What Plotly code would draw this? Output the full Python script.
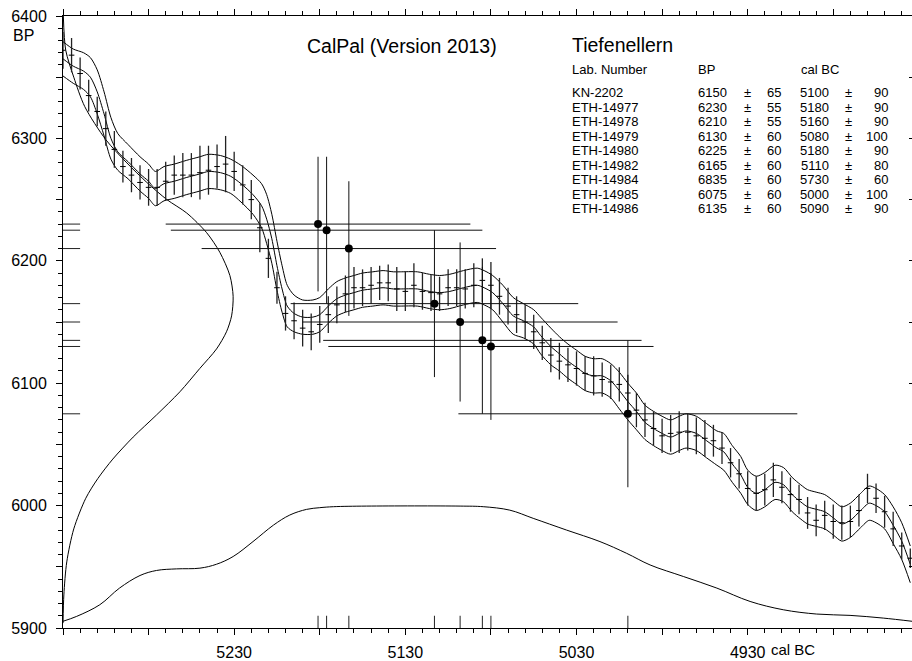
import plotly.graph_objects as go

FONT = "Liberation Sans, Arial, sans-serif"

# ---------------- samples (table) ----------------
lab_numbers = ["KN-2202", "ETH-14977", "ETH-14978", "ETH-14979", "ETH-14980",
               "ETH-14982", "ETH-14984", "ETH-14985", "ETH-14986"]
bp_values = [6150, 6230, 6210, 6130, 6225, 6165, 6835, 6075, 6135]
bp_errors = [65, 55, 55, 60, 60, 60, 60, 60, 60]
calbc_values = [5100, 5180, 5160, 5080, 5180, 5110, 5730, 5000, 5090]
calbc_errors = [90, 90, 90, 100, 90, 80, 60, 100, 90]
# calibrated positions as plotted (unrounded)
cal_median = [5098, 5181, 5163, 5080, 5176, 5113, 5730, 5000, 5085]
cal_spread = [92, 89, 86, 95, 91, 84, 60, 99, 93]

# ---------------- calibration curve (smoothed, mean and 1 sigma) ----------------
curve_cal = [5330, 5324, 5318, 5314, 5310, 5306, 5302, 5298, 5292, 5285,
             5280, 5276, 5271, 5265, 5258, 5250, 5245, 5238, 5232, 5226,
             5219, 5214, 5211, 5208, 5205, 5202, 5199, 5195, 5190, 5184,
             5180, 5175, 5170, 5165, 5160, 5155, 5149, 5143, 5137, 5133,
             5123, 5116, 5110, 5104, 5096, 5088, 5084, 5079, 5073, 5067,
             5061, 5055, 5051, 5045, 5040, 5035, 5030, 5025, 5020, 5015,
             5010, 5005, 5000, 4995, 4990, 4985, 4980, 4975, 4970, 4966,
             4960, 4954, 4948, 4944, 4939, 4934, 4930, 4925, 4920, 4914,
             4909, 4904, 4899, 4895, 4890, 4885, 4880, 4875, 4870, 4864,
             4859, 4855, 4850, 4845, 4840, 4835]
curve_bp = [6365, 6359, 6355, 6350, 6338, 6320, 6300, 6289, 6281, 6271,
            6265, 6259, 6263, 6265, 6268, 6271, 6273, 6272, 6269, 6263,
            6254, 6245, 6234, 6218, 6196, 6177, 6163, 6157, 6154, 6154,
            6156, 6163, 6169, 6172, 6174, 6176, 6177, 6178, 6177, 6177,
            6177, 6175, 6174, 6175, 6178, 6180, 6178, 6174, 6165, 6155,
            6151, 6146, 6139, 6130, 6124, 6118, 6113, 6108, 6106, 6106,
            6102, 6094, 6085, 6077, 6068, 6063, 6059, 6056, 6059, 6061,
            6059, 6053, 6047, 6044, 6034, 6025, 6015, 6010, 6013, 6019,
            6017, 6009, 6003, 5999, 5997, 5995, 5990, 5985, 5988, 5996,
            6002, 6000, 5995, 5984, 5971, 5952]
curve_sigma = [14, 14, 15, 16, 18, 18, 17, 15, 14, 14,
               14, 14, 14, 14, 14, 14, 14, 14, 14, 15,
               16, 18, 20, 20, 20, 19, 17, 15, 14, 14,
               14, 14, 14, 14, 14, 14, 14, 14, 14, 14,
               14, 14, 14, 14, 14, 14, 14, 14, 15, 15,
               14, 14, 15, 15, 14, 14, 14, 14, 14, 14,
               14, 15, 15, 15, 14, 14, 14, 14, 14, 14,
               14, 14, 14, 15, 15, 15, 14, 14, 14, 14,
               14, 14, 14, 14, 14, 14, 14, 14, 14, 14,
               14, 14, 14, 15, 15, 15]

# ---------------- calibration data points (5-year steps) ----------------
raw_cal = [5330, 5325, 5320, 5315, 5310, 5305, 5300, 5295, 5290, 5285,
           5280, 5275, 5270, 5265, 5260, 5255, 5250, 5245, 5240, 5235,
           5230, 5225, 5220, 5215, 5210, 5205, 5200, 5195, 5190, 5185,
           5180, 5175, 5170, 5165, 5160, 5155, 5150, 5145, 5140, 5135,
           5130, 5125, 5120, 5115, 5110, 5105, 5100, 5095, 5090, 5085,
           5080, 5075, 5070, 5065, 5060, 5055, 5050, 5045, 5040, 5035,
           5030, 5025, 5020, 5015, 5010, 5005, 5000, 4995, 4990, 4985,
           4980, 4975, 4970, 4965, 4960, 4955, 4950, 4945, 4940, 4935,
           4930, 4925, 4920, 4915, 4910, 4905, 4900, 4895, 4890, 4885,
           4880, 4875, 4870, 4865, 4860, 4855, 4850, 4845, 4840, 4835]
raw_bp = [6372, 6368, 6353, 6335, 6322, 6308, 6291, 6277, 6270, 6264,
          6260, 6260, 6265, 6270, 6270, 6270, 6272, 6274, 6277, 6279,
          6273, 6262, 6250, 6227, 6202, 6178, 6157, 6151, 6145, 6142,
          6148, 6156, 6164, 6173, 6178, 6178, 6180, 6182, 6182, 6177,
          6175, 6180, 6175, 6174, 6173, 6178, 6178, 6177, 6180, 6184,
          6180, 6171, 6163, 6156, 6150, 6142, 6133, 6123, 6118, 6115,
          6112, 6108, 6106, 6103, 6101, 6099, 6092, 6078, 6070, 6063,
          6057, 6059, 6060, 6060, 6057, 6055, 6053, 6047, 6035, 6026,
          6014, 6010, 6013, 6021, 6015, 6009, 6005, 5994, 5988, 5992,
          5987, 5986, 5987, 5996, 6014, 6006, 5995, 5981, 5967, 5957]
raw_err = [15, 14, 13, 13, 12, 14, 15, 13, 14, 14,
           15, 15, 16, 16, 18, 18, 22, 20, 18, 23,
           16, 16, 16, 20, 16, 13, 14, 15, 15, 15,
           15, 15, 15, 15, 17, 15, 15, 14, 15, 18,
           16, 18, 15, 15, 14, 15, 15, 16, 18, 18,
           19, 15, 15, 15, 14, 14, 14, 14, 15, 14,
           14, 14, 16, 14, 14, 14, 15, 14, 14, 14,
           14, 15, 17, 15, 15, 15, 13, 13, 12, 12,
           14, 14, 13, 14, 13, 14, 12, 13, 13, 12,
           14, 14, 13, 13, 12, 12, 13, 14, 11, 8]

# ---------------- summed radiocarbon distribution (left, along BP) ----------------
bpdist_bp = [6400, 6372, 6350, 6326, 6299, 6280, 6264, 6250, 6239, 6223,
             6207, 6188, 6171, 6155, 6142, 6128, 6112, 6093, 6074, 6056,
             6038, 6022, 6006, 5981, 5954, 5927, 5904]
bpdist_cal = [5329.8, 5328.4, 5323.7, 5317.3, 5305.0, 5292.7, 5281.0, 5269.3, 5257.7, 5246.1,
              5238.4, 5232.5, 5230.6, 5231.5, 5234.5, 5240.3, 5250.1, 5261.7, 5275.4, 5289.0,
              5300.9, 5309.7, 5316.7, 5323.7, 5327.8, 5329.5, 5330.0]

# ---------------- summed calibrated distribution (bottom, along cal BC) ----------------
caldist_cal = [5330, 5322, 5308.5, 5297, 5285, 5275.4, 5263.7, 5250, 5240.3, 5230.6,
               5219, 5207, 5197.5, 5187.7, 5180, 5172, 5152.6, 5098, 5084.5, 5069,
               5055.3, 5035.8, 5016.3, 5000.7, 4987, 4967.6, 4948, 4928.6, 4909.2, 4889.7,
               4870.2, 4850.8, 4834]
caldist_bp = [5905.5, 5909.5, 5919, 5932.6, 5942.9, 5947, 5948.3, 5948.9, 5952.1, 5958.4,
              5970.6, 5984.1, 5992.3, 5996.9, 5998.3, 5999.1, 5999.6, 5999.6, 5999.1, 5996.3,
              5989.6, 5980, 5970.6, 5961, 5951.5, 5942.1, 5932.6, 5921.7, 5914.9, 5911.4,
              5910.3, 5908.1, 5905.5]

# ---------------- axes ----------------
x_major_ticks = [5330, 5280, 5230, 5180, 5130, 5080, 5030, 4980, 4930, 4880]
x_tick_labels = ["", "", "5230", "", "5130", "", "5030", "", "4930", ""]
y_major_ticks = [5900, 5950, 6000, 6050, 6100, 6150, 6200, 6250, 6300, 6350, 6400]
y_tick_labels = ["5900", "", "6000", "", "6100", "", "6200", "", "6300", "", "6400"]
X_RANGE = [5330, 4834]
Y_RANGE = [5900, 6400]
MARK_LEN_YR = 10   # length of the sample marks on the BP axis (years)
MARK_LEN_BP = 10   # length of the sample marks on the time axis (BP)

fig = go.Figure()

# distributions
fig.add_trace(go.Scatter(x=bpdist_cal, y=bpdist_bp, mode="lines",
                         line=dict(color="black", width=1, shape="spline", smoothing=0.8)))
fig.add_trace(go.Scatter(x=caldist_cal, y=caldist_bp, mode="lines",
                         line=dict(color="black", width=1, shape="spline", smoothing=1.0)))

# calibration curve band
upper = [b + s for b, s in zip(curve_bp, curve_sigma)]
lower = [b - s for b, s in zip(curve_bp, curve_sigma)]
for ys in (upper, curve_bp, lower):
    fig.add_trace(go.Scatter(x=curve_cal, y=ys, mode="lines",
                             line=dict(color="black", width=1, shape="spline", smoothing=0.8)))

# calibration data with error bars
fig.add_trace(go.Scatter(
    x=raw_cal, y=raw_bp, mode="markers",
    marker=dict(symbol="line-ew-open", size=4, color="black", line=dict(color="black", width=1)),
    error_y=dict(type="data", array=raw_err, visible=True, width=0, thickness=1.3, color="#222222"),
))

# sample marks on the axes
lm_x, lm_y, bm_x, bm_y = [], [], [], []
for b, c in zip(bp_values, cal_median):
    lm_x += [X_RANGE[0], X_RANGE[0] - MARK_LEN_YR, None]
    lm_y += [b, b, None]
    bm_x += [c, c, None]
    bm_y += [Y_RANGE[0], Y_RANGE[0] + MARK_LEN_BP, None]
fig.add_trace(go.Scatter(x=lm_x, y=lm_y, mode="lines", line=dict(color="#222222", width=1)))
fig.add_trace(go.Scatter(x=bm_x, y=bm_y, mode="lines", line=dict(color="#222222", width=1)))

# samples: crosses with dots
fig.add_trace(go.Scatter(
    x=cal_median, y=bp_values, mode="markers",
    marker=dict(symbol="circle", size=8, color="black"),
    error_x=dict(type="data", array=cal_spread, visible=True, width=0, thickness=1, color="#111111"),
    error_y=dict(type="data", array=bp_errors, visible=True, width=0, thickness=1, color="#111111"),
))

# dummy trace to activate right-hand tick axis
fig.add_trace(go.Scatter(x=[None], y=[None], yaxis="y2", mode="markers"))

# ---------------- annotations (texts) ----------------
PW, PH, L, B = 849, 614, 63, 630
PAD = 1  # annotation box padding compensation
TABLE_SIZE = 13


def ann(text, px, py, anchor, size):
    if anchor == "left":
        px -= PAD
    elif anchor == "right":
        px += PAD
    return dict(text=text, x=(px - L) / PW, y=(B - py) / PH, xref="paper", yref="paper",
                xanchor=anchor, yanchor="middle", showarrow=False, borderpad=0,
                font=dict(size=size, color="black", family=FONT))


annotations = [
    ann("CalPal (Version 2013)", 402, 46, "center", 19.5),
    ann("Tiefenellern", 571.5, 45, "left", 19.5),
    ann("Lab. Number", 571.5, 70, "left", TABLE_SIZE),
    ann("BP", 697.5, 70, "left", TABLE_SIZE),
    ann("cal BC", 800.5, 70, "left", TABLE_SIZE),
]
for i, (labn, b, be, c, ce) in enumerate(zip(lab_numbers, bp_values, bp_errors,
                                             calbc_values, calbc_errors)):
    py = 92.8 + i * 14.59
    annotations += [
        ann(labn, 571.5, py, "left", TABLE_SIZE),
        ann(str(b), 726.7, py, "right", TABLE_SIZE),
        ann("±", 747.7, py, "center", TABLE_SIZE),
        ann(str(be), 780.7, py, "right", TABLE_SIZE),
        ann(str(c), 829.3, py, "right", TABLE_SIZE),
        ann("±", 848.7, py, "center", TABLE_SIZE),
        ann(str(ce), 888.3, py, "right", TABLE_SIZE),
    ]
annotations.append(dict(text="BP", xref="paper", x=0, xshift=-27, xanchor="right",
                        yref="y", y=6400, yshift=-19, yanchor="middle", showarrow=False,
                        font=dict(size=16, color="black", family=FONT)))
annotations.append(dict(text="cal BC", xref="x", x=4930, xshift=21, xanchor="left",
                        yref="paper", y=0, yshift=-21, yanchor="middle", showarrow=False,
                        font=dict(size=15, color="black", family=FONT)))

fig.update_layout(
    width=912, height=661,
    margin=dict(l=63, r=0, t=16, b=31),
    paper_bgcolor="white", plot_bgcolor="white",
    showlegend=False,
    font=dict(family=FONT, size=16, color="black"),
    annotations=annotations,
    xaxis=dict(
        range=X_RANGE, tickmode="array", tickvals=x_major_ticks, ticktext=x_tick_labels,
        ticks="outside", ticklen=6, tickwidth=1, tickcolor="black",
        minor=dict(dtick=10, tick0=5230, ticks="outside", ticklen=4, tickwidth=1, tickcolor="black"),
        showline=True, linecolor="black", linewidth=1, mirror="ticks",
        showgrid=False, zeroline=False, ticklabelstandoff=4,
        tickfont=dict(size=16, family=FONT, color="black"),
    ),
    yaxis=dict(
        range=Y_RANGE, tickmode="array", tickvals=y_major_ticks, ticktext=y_tick_labels,
        ticks="outside", ticklen=6, tickwidth=1, tickcolor="black",
        minor=dict(dtick=10, tick0=5900, ticks="outside", ticklen=4, tickwidth=1, tickcolor="black"),
        showline=True, linecolor="black", linewidth=1, mirror=False,
        showgrid=False, zeroline=False, ticklabelstandoff=6,
        tickfont=dict(size=16, family=FONT, color="black"),
    ),
    yaxis2=dict(
        range=Y_RANGE, overlaying="y", side="right", tickmode="array", tickvals=y_major_ticks,
        ticks="inside", ticklen=3, tickwidth=1, tickcolor="black", showticklabels=False,
        showline=False, showgrid=False, zeroline=False,
    ),
)

fig.write_html("out.html")
